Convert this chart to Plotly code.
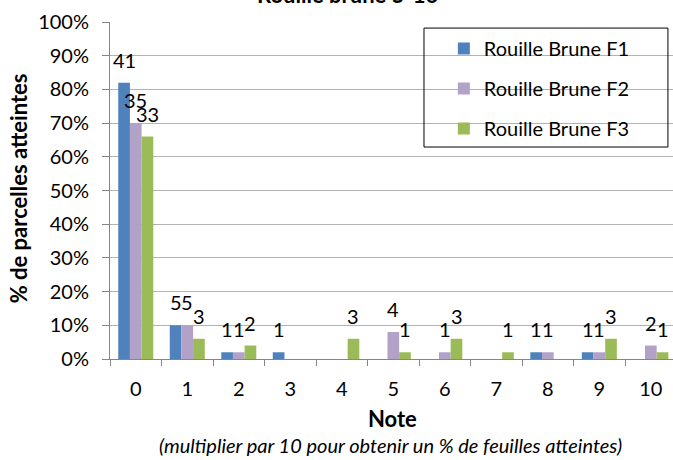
import plotly.graph_objects as go

notes = ["0", "1", "2", "3", "4", "5", "6", "7", "8", "9", "10"]
series_names = ["Rouille Brune F1", "Rouille Brune F2", "Rouille Brune F3"]

# % de parcelles atteintes
pct_f1 = [82, 10, 2, 2, 0, 0, 0, 0, 2, 2, 0]
pct_f2 = [70, 10, 2, 0, 0, 8, 2, 0, 2, 2, 4]
pct_f3 = [66, 6, 4, 0, 6, 2, 6, 2, 0, 6, 2]

# nombre de parcelles (étiquettes)
lbl_f1 = ["41", "5", "1", "1", "", "", "", "", "1", "1", ""]
lbl_f2 = ["35", "5", "1", "", "", "4", "1", "", "1", "1", "2"]
lbl_f3 = ["33", "3", "2", "", "3", "1", "3", "1", "", "3", "1"]

y_ticks = [0, 10, 20, 30, 40, 50, 60, 70, 80, 90, 100]
y_tick_labels = ["0%", "10%", "20%", "30%", "40%", "50%", "60%", "70%", "80%", "90%", "100%"]

colors = ["#4F81BD", "#B3A2C7", "#9BBB59"]
FONT = "Lato, Noto Sans, sans-serif"
FS = 20

BAR_PX = 11.7  # width of one bar in pixels (for label offsets)

fig = go.Figure()
annotations = []
for i, (name, vals, lbls) in enumerate(zip(series_names, [pct_f1, pct_f2, pct_f3], [lbl_f1, lbl_f2, lbl_f3])):
    fig.add_trace(go.Bar(
        x=notes, y=vals, name=name,
        marker=dict(color=colors[i], line=dict(width=0)),
        legendgroup=f"g{i}",
        hoverinfo="x+y+name",
    ))
    for xc, v, t in zip(notes, vals, lbls):
        if t:
            annotations.append(dict(
                x=xc, y=v, xref="x", yref="y", text=t, showarrow=False,
                xanchor="center", yanchor="bottom",
                xshift=(i - 1) * BAR_PX, yshift=9,
                font=dict(family=FONT, size=FS, color="#000000"),
            ))

annotations += [
    dict(text="<b>Rouille brune 5-16</b>", xref="paper", yref="paper",
         x=0.4227, y=1.035, xanchor="center", yanchor="bottom", showarrow=False,
         font=dict(family=FONT, size=22)),
    dict(text="<b>% de parcelles atteintes</b>", xref="paper", yref="paper",
         x=-0.163, y=0.507, xanchor="center", yanchor="middle", textangle=-90,
         showarrow=False, font=dict(family=FONT, size=22)),
    dict(text="<b>Note</b>", xref="paper", yref="paper",
         x=0.502, y=-0.177, xanchor="center", yanchor="middle", showarrow=False,
         font=dict(family=FONT, size=22)),
    dict(text="<i>(multiplier par 10 pour obtenir un % de feuilles atteintes)</i>",
         xref="paper", yref="paper",
         x=0.498, y=-0.255, xanchor="center", yanchor="middle", showarrow=False,
         font=dict(family=FONT, size=20)),
]

fig.update_layout(
    width=673, height=460,
    margin=dict(l=110, r=0, t=22, b=101, autoexpand=False),
    paper_bgcolor="white", plot_bgcolor="white",
    barmode="group", bargap=0.32, bargroupgap=0,
    font=dict(family=FONT, size=FS, color="#000000"),
    showlegend=True,
    legend=dict(
        x=0.593, y=0.979, xanchor="left", yanchor="top",
        bgcolor="rgba(0,0,0,0)", borderwidth=0,
        font=dict(family=FONT, size=FS, color="#000000"),
        traceorder="grouped", tracegroupgap=11,
    ),
    xaxis=dict(
        type="category", range=[-0.5, 10.43], automargin=False,
        showline=True, linecolor="#868686", linewidth=1,
        ticks="outside", tickson="boundaries", ticklen=6, tickcolor="#868686",
        showgrid=False, ticklabelstandoff=12,
        tickfont=dict(family=FONT, size=FS),
        title=None,
    ),
    yaxis=dict(
        range=[0, 100], tickvals=y_ticks, ticktext=y_tick_labels, automargin=False,
        showline=True, linecolor="#868686", linewidth=1,
        ticks="outside", ticklen=7, tickcolor="#868686",
        showgrid=True, gridcolor="#B3B3B3", gridwidth=1,
        zeroline=False, ticklabelstandoff=9,
        tickfont=dict(family=FONT, size=FS),
        title=None,
    ),
    shapes=[dict(
        type="rect", xref="paper", yref="paper",
        x0=0.5577, x1=0.991, y0=0.629, y1=0.982,
        line=dict(color="#000000", width=1), fillcolor="rgba(0,0,0,0)", layer="above",
    )],
    annotations=annotations,
)

fig.write_html("out.html", config={"displayModeBar": False},
               post_script="document.body.style.margin='0';")
